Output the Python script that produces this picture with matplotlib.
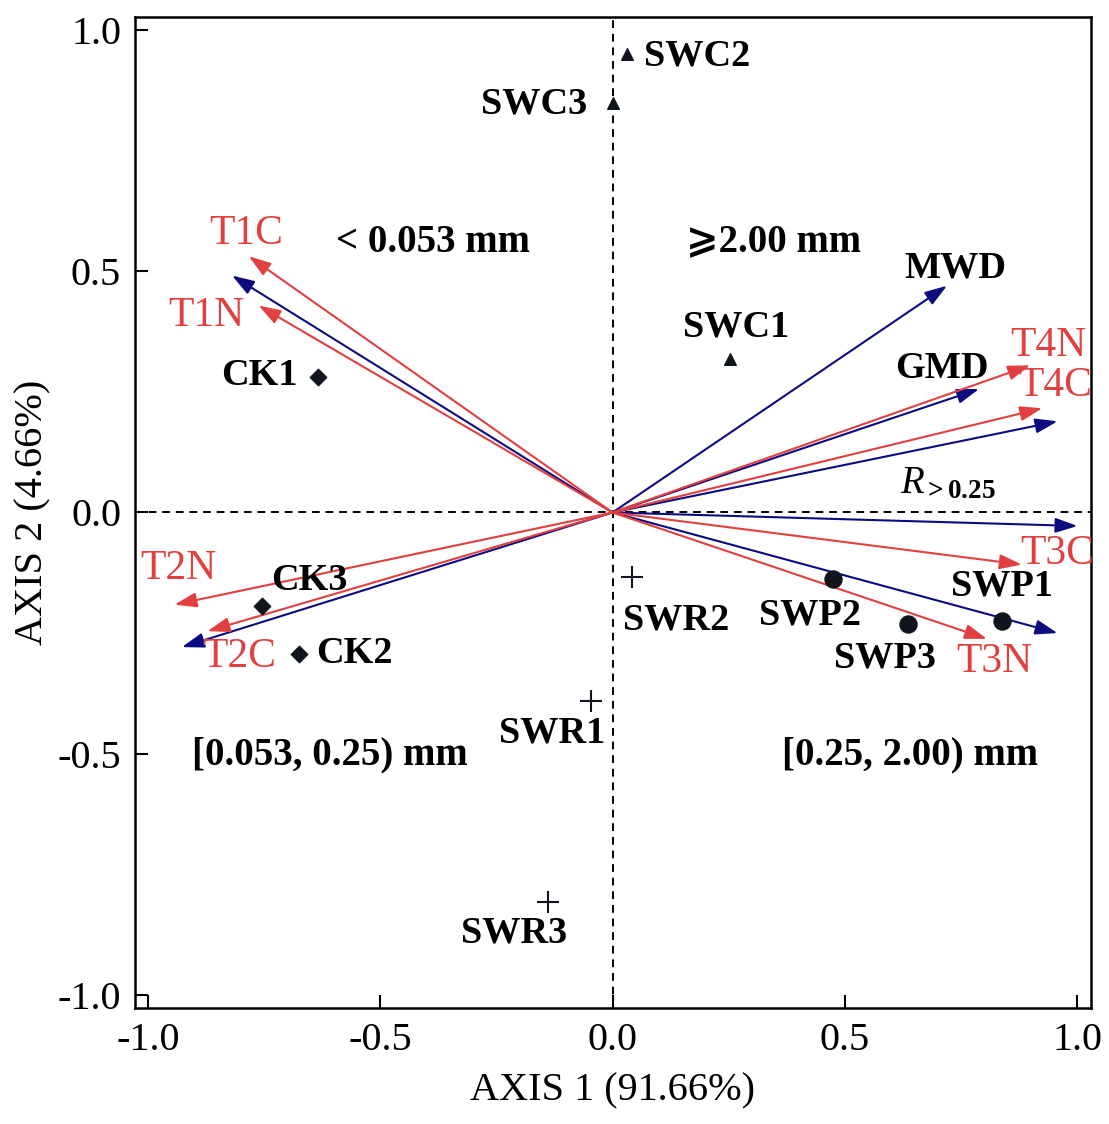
import matplotlib
matplotlib.use("Agg")
import matplotlib.pyplot as plt

plt.rcParams['font.family'] = ['Liberation Serif', 'DejaVu Sans']
plt.rcParams['mathtext.fontset'] = 'custom'
plt.rcParams['mathtext.rm'] = 'Liberation Serif'
plt.rcParams['mathtext.it'] = 'Liberation Serif:italic'
plt.rcParams['mathtext.bf'] = 'Liberation Serif:bold'

# samples (site scores)
ck_names = ['CK1', 'CK2', 'CK3']
ck_x = [-0.635, -0.675, -0.755]
ck_y = [0.281, -0.293, -0.193]

swc_names = ['SWC1', 'SWC2', 'SWC3']
swc_x = [0.252, 0.0315, 0.0]
swc_y = [0.318, 0.950, 0.848]

swp_names = ['SWP1', 'SWP2', 'SWP3']
swp_x = [0.838, 0.475, 0.637]
swp_y = [-0.224, -0.137, -0.232]

swr_names = ['SWR1', 'SWR2', 'SWR3']
swr_x = [-0.046, 0.042, -0.138]
swr_y = [-0.391, -0.133, -0.808]

# treatment vectors (red)
trt_names = ['T1C', 'T1N', 'T2N', 'T2C', 'T3C', 'T3N', 'T4N', 'T4C']
trt_x = [-0.783, -0.762, -0.943, -0.872, 0.881, 0.806, 0.899, 0.925]
trt_y = [0.531, 0.429, -0.191, -0.246, -0.108, -0.262, 0.305, 0.216]

# aggregate variables (blue)
agg_names = ['<0.053', '[0.053,0.25)', 'MWD', 'GMD', '>=2.00', 'R>0.25', '[0.25,2.00)']
agg_x = [-0.819, -0.927, 0.720, 0.789, 0.958, 1.001, 0.958]
agg_y = [0.491, -0.279, 0.470, 0.256, 0.189, -0.028, -0.250]

# label placement
lab_pos = {
    'CK1': (-0.761, 0.283), 'CK2': (-0.555, -0.293), 'CK3': (-0.652, -0.140),
    'SWC1': (0.266, 0.384), 'SWC2': (0.182, 0.946), 'SWC3': (-0.169, 0.847),
    'SWP1': (0.839, -0.152), 'SWP2': (0.426, -0.212), 'SWP3': (0.587, -0.302),
    'SWR1': (-0.130, -0.457), 'SWR2': (0.137, -0.223), 'SWR3': (-0.212, -0.871),
    'T1C': (-0.788, 0.577), 'T1N': (-0.874, 0.407), 'T2N': (-0.934, -0.117),
    'T2C': (-0.803, -0.299), 'T3C': (0.958, -0.086), 'T3N': (0.822, -0.310),
    'T4N': (0.939, 0.345), 'T4C': (0.952, 0.262),
    'MWD': (0.738, 0.507), 'GMD': (0.708, 0.299),
}
quad_text = ['< 0.053 mm', '\u2a7e2.00 mm', '[0.053, 0.25) mm', '[0.25, 2.00) mm']
quad_pos = [(-0.387, 0.559), (0.346, 0.561), (-0.609, -0.503), (0.641, -0.503)]

RED = '#e04040'
BLUE = '#0c0c80'
DARK = '#10141c'

fig = plt.figure(figsize=(11.09, 11.24), dpi=100)
ax = fig.add_axes([0.1217, 0.1032, 0.8621, 0.8817])

ax.axhline(0, color='black', lw=1.4, ls=(0, (4, 3)), zorder=1)
ax.axvline(0, color='black', lw=1.4, ls=(0, (4, 3)), zorder=1)

def arrow(x, y, c):
    ax.annotate('', xy=(x, y), xytext=(0, 0),
                arrowprops=dict(arrowstyle='-|>,head_length=0.9,head_width=0.3',
                                mutation_scale=15, color=c, lw=1.5,
                                shrinkA=0, shrinkB=0), zorder=3)

for x, y in zip(agg_x, agg_y):
    arrow(x, y, BLUE)
for x, y in zip(trt_x, trt_y):
    arrow(x, y, RED)

ax.scatter(ck_x, ck_y, marker='D', s=70, color=DARK, zorder=4)
ax.scatter(swc_x, swc_y, marker='^', s=70, color=DARK, zorder=4)
ax.scatter(swp_x, swp_y, marker='o', s=150, color=DARK, zorder=4)
ax.scatter(swr_x, swr_y, marker='+', s=260, color=DARK, linewidths=1.5, zorder=4)

for n in ck_names + swc_names + swp_names + swr_names + ['MWD', 'GMD']:
    ax.text(*lab_pos[n], n, fontsize=27.5, fontweight='bold', ha='center', va='center')
for n in trt_names:
    ax.text(*lab_pos[n], n, fontsize=30, color=RED, ha='center', va='center')
ax.text(0.723, 0.059, r'$\mathit{R}_{\mathbf{>0.25}}$', fontsize=28, ha='center', va='center')
for t, (x, y) in zip(quad_text, quad_pos):
    ax.text(x, y, t, fontsize=28, fontweight='bold', ha='center', va='center')

ax.set_xlim(-1.028, 1.030)
ax.set_ylim(-1.027, 1.027)
ax.set_xticks([-1.0, -0.5, 0.0, 0.5, 1.0])
ax.set_yticks([-1.0, -0.5, 0.0, 0.5, 1.0])
ax.set_xticklabels(['-1.0', '-0.5', '0.0', '0.5', '1.0'])
ax.set_yticklabels(['-1.0', '-0.5', '0.0', '0.5', '1.0'])
ax.tick_params(direction='in', length=9.5, width=1.5, labelsize=29, pad=10)
for s in ax.spines.values():
    s.set_linewidth(1.8)

ax.set_xlabel('AXIS 1 (91.66%)', fontsize=29, labelpad=10)
ax.set_ylabel('AXIS 2 (4.66%)', fontsize=29, labelpad=4)

fig.savefig('out.png', dpi=100)
